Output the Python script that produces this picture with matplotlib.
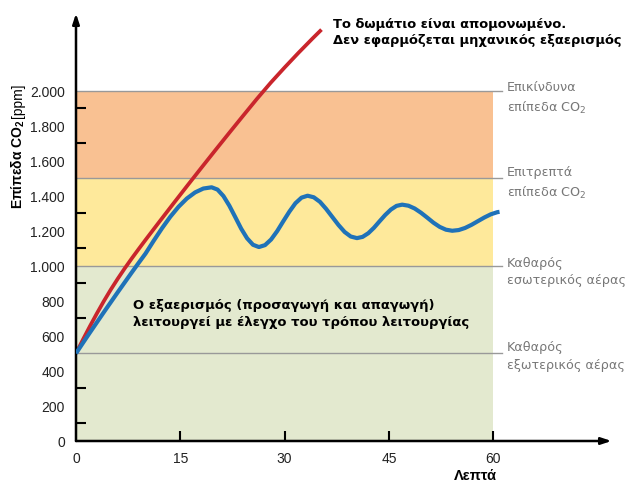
import matplotlib
matplotlib.use("Agg")
import matplotlib.pyplot as plt

plt.rcParams['font.family'] = ['Liberation Sans', 'DejaVu Sans']
plt.rcParams['mathtext.default'] = 'regular'

# ---- data ----
red_x = [0, 1, 2, 3, 4, 5, 6, 7, 8, 9, 10, 12, 14, 16, 18, 20, 22, 24, 26, 28, 30, 32, 34, 35.3]
red_y = [500, 579, 655, 728, 798, 864, 926, 985, 1041, 1095, 1148, 1252, 1355, 1457, 1558,
         1658, 1757, 1855, 1952, 2045, 2132, 2216, 2297, 2348]

blue_x = [0, 1, 2, 3, 4, 5, 6, 7, 8, 9, 10, 11.19, 12.38, 13.56, 14.75, 15.94, 17.13, 18.31,
          19.5, 20.35, 21.2, 22.05, 22.9, 23.75, 24.6, 25.45,
          26.3, 27.18, 28.05, 28.93, 29.8, 30.68, 31.55, 32.43,
          33.3, 34.19, 35.08, 35.96, 36.85, 37.74, 38.63, 39.51,
          40.4, 41.21, 42.03, 42.84, 43.65, 44.46, 45.28, 46.09,
          46.9, 47.8, 48.7, 49.6, 50.5, 51.4, 52.3, 53.2,
          54.1, 55.03, 55.95, 56.88, 57.8, 58.73, 59.65, 60.58, 60.9]
blue_y = [500, 560, 619, 677, 735, 792, 849, 905, 961, 1016, 1070, 1144, 1215, 1280, 1337,
          1384, 1419, 1441,
          1448, 1435, 1398, 1343, 1278, 1212, 1157, 1120,
          1107, 1118, 1150, 1198, 1254, 1309, 1357, 1389,
          1400, 1391, 1365, 1325, 1279, 1233, 1193, 1167,
          1158, 1165, 1186, 1217, 1254, 1290, 1321, 1342,
          1349, 1343, 1327, 1303, 1275, 1246, 1222, 1206,
          1200, 1204, 1216, 1234, 1255, 1276, 1294, 1306, 1308]

band_levels = [0, 1000, 1500, 2000]
band_colors = ['#e3e9cf', '#fee99b', '#f9c192']
ref_levels = [500, 1000, 1500, 2000]

y_ticks = [0, 200, 400, 600, 800, 1000, 1200, 1400, 1600, 1800, 2000]
y_ticklabels = ['0', '200', '400', '600', '800', '1.000', '1.200', '1.400',
                '1.600', '1.800', '2.000']
x_ticks = [0, 15, 30, 45, 60]
x_ticklabels = ['0', '15', '30', '45', '60']

right_labels = ['Επικίνδυνα\nεπίπεδα CO$_2$', 'Επιτρεπτά\nεπίπεδα CO$_2$',
                'Καθαρός\nεσωτερικός αέρας', 'Καθαρός\nεξωτερικός αέρας']
right_label_y = [1960, 1475, 970, 487]

text_red = 'Το δωμάτιο είναι απομονωμένο.\nΔεν εφαρμόζεται μηχανικός εξαερισμός'
text_blue = 'Ο εξαερισμός (προσαγωγή και απαγωγή)\nλειτουργεί με έλεγχο του τρόπου λειτουργίας'

# ---- figure ----
fig = plt.figure(figsize=(6.31, 4.85), dpi=100)
ax = fig.add_axes([76 / 631, 43 / 485, 535.5 / 631, 427.5 / 485])
ax.set_xlim(0, 77)
ax.set_ylim(0, 2440)
for s in ax.spines.values():
    s.set_visible(False)

for i, c in enumerate(band_colors):
    ax.fill_between([0, 60], band_levels[i], band_levels[i + 1], color=c, lw=0, zorder=0)
for lv in ref_levels:
    ax.plot([0, 61.2], [lv, lv], color='#999999', lw=1.0, zorder=1, clip_on=False)

ax.plot(red_x, red_y, color='#c9252c', lw=2.7, zorder=3, solid_capstyle='butt',
        solid_joinstyle='round')
ax.plot(blue_x, blue_y, color='#1f72b8', lw=3.0, zorder=4, solid_capstyle='butt',
        solid_joinstyle='round')

# axes with arrows
ax.annotate('', xy=(77, 0), xytext=(0, 0), xycoords='data',
            arrowprops=dict(arrowstyle='-|>,head_length=0.6,head_width=0.2', lw=1.8,
                            color='black', shrinkA=0, shrinkB=0), annotation_clip=False)
ax.annotate('', xy=(0, 2440), xytext=(0, 0), xycoords='data',
            arrowprops=dict(arrowstyle='-|>,head_length=0.6,head_width=0.2', lw=1.8,
                            color='black', shrinkA=0, shrinkB=0), annotation_clip=False)

# ticks
ax.set_yticks(y_ticks)
ax.set_yticklabels(y_ticklabels)
ax.set_yticks([v for v in range(100, 2000, 100) if v % 500 != 0], minor=True)
ax.tick_params(axis='y', which='major', length=0, pad=8, labelsize=10, labelcolor='#222222')
ax.tick_params(axis='y', which='minor', direction='in', length=7, width=1.5, color='black')
ax.set_xticks(x_ticks)
ax.set_xticklabels(x_ticklabels)
ax.tick_params(axis='x', which='major', direction='in', length=7, width=1.5,
               pad=7, labelsize=10, labelcolor='#222222')
ax.xaxis.get_major_ticks()[0].tick1line.set_visible(False)

ax.text(57.4, -194, 'Λεπτά', ha='center', va='center', fontsize=10.5, fontweight='bold')
fig.text(18 / 631, 1 - 164 / 485, 'Επίπεδα CO$_2$', rotation=90, ha='center', va='center',
         fontsize=10, fontweight='bold')
fig.text(18 / 631, 1 - 101 / 485, '[ppm]', rotation=90, ha='center', va='center',
         fontsize=10)

for lab, yy in zip(right_labels, right_label_y):
    ax.text(62.0, yy, lab, ha='left', va='center', fontsize=9.2, family='DejaVu Sans',
            color='#777777', linespacing=1.45, clip_on=False)

ax.text(36.95, 2338, text_red, ha='left', va='center', fontsize=9.4, fontweight='bold',
        family='DejaVu Sans', linespacing=1.32, clip_on=False)
ax.text(8.2, 731, text_blue, ha='left', va='center', fontsize=9.45, fontweight='bold',
        family='DejaVu Sans', linespacing=1.32)

fig.savefig('out.png', dpi=100)
